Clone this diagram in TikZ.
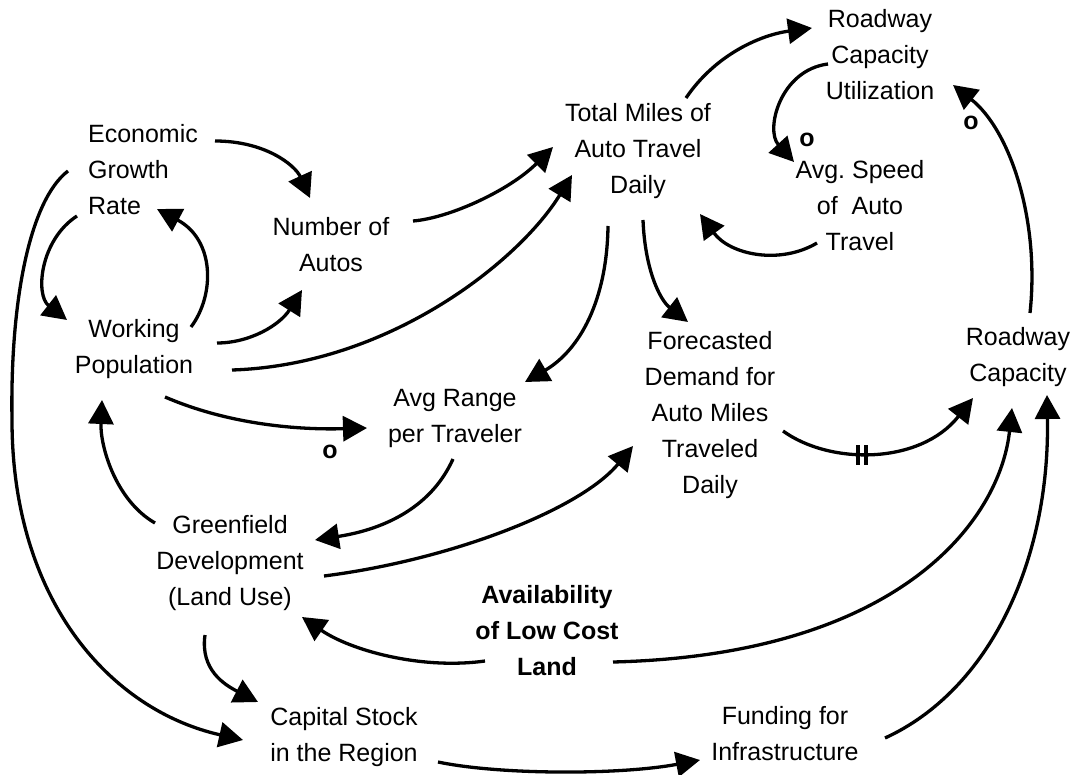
\documentclass[tikz,border=0pt]{standalone}
\usepackage{fontspec}
\setmainfont{Liberation Sans}
\usetikzlibrary{arrows.meta}
\begin{document}
\begin{tikzpicture}[x=1pt,y=-1pt,
  lbl/.style={align=center,inner sep=0pt,font=\fontsize{25}{36}\selectfont},
  conn/.style={line width=3.3pt,-{Triangle[length=24pt,width=25pt]}},
  pol/.style={inner sep=0pt,font=\fontsize{25}{30}\selectfont\bfseries}]
\useasboundingbox[fill=white] (0,0) rectangle (1073,775);
% nodes
\node[lbl,align=left] (econ) at (143,170) {Economic\\Growth\\Rate};
\node[lbl] (autos) at (331,245) {Number of\\Autos};
\node[lbl] (work) at (134,349) {Working\\Population};
\node[lbl] (total) at (638,151) {Total Miles of\\Auto Travel\\Daily};
\node[lbl] (rcu) at (880,55) {Roadway\\Capacity\\Utilization};
\node[lbl] (speed) at (860,206) {Avg.\ Speed\\of~~Auto\\Travel};
\node[lbl] (fore) at (710,415) {Forecasted\\Demand for\\Auto Miles\\Traveled\\Daily};
\node[lbl] (rcap) at (1018,357) {Roadway\\Capacity};
\node[lbl] (range) at (455,418) {Avg Range\\per Traveler};
\node[lbl] (green) at (230,563) {Greenfield\\Development\\(Land Use)};
\node[lbl,font=\fontsize{25}{36}\selectfont\bfseries] (avail) at (547,631) {Availability\\of Low Cost\\Land};
\node[lbl] (cap) at (344,737) {Capital Stock\\in the Region};
\node[lbl] (fund) at (785,734) {Funding for\\Infrastructure};
% connectors
\draw[conn] ([shift={(72,-29)}]econ.center) .. controls (265,141) and (295,165) .. ([shift={(-21,-47)}]autos.center);
\draw[conn] ([shift={(-66,46)}]econ.center) .. controls (40,240) and (35,295) .. ([shift={(-67,-29)}]work.center);
\draw[conn] ([shift={(57,-22)}]work.center) .. controls (215,295) and (215,240) .. ([shift={(14,39)}]econ.center);
\draw[conn] ([shift={(83,-6)}]work.center) .. controls (250,343) and (280,325) .. ([shift={(-29,45)}]autos.center);
\draw[conn] ([shift={(98,21)}]work.center) .. controls (390,365) and (520,260) .. ([shift={(-66,24)}]total.center);
\draw[conn] ([shift={(82,-24)}]autos.center) .. controls (450,218) and (510,190) .. ([shift={(-85,-4)}]total.center);
\draw[conn] ([shift={(48,-53)}]total.center) .. controls (715,55) and (760,35) .. ([shift={(-68,-27)}]rcu.center);
\draw[conn] ([shift={(-52,9)}]rcu.center) .. controls (780,70) and (765,130) .. ([shift={(-66,-44)}]speed.center);
\draw[conn] ([shift={(-43,37)}]speed.center) .. controls (780,265) and (730,255) .. ([shift={(62,63)}]total.center);
\draw[conn] ([shift={(-30,75)}]total.center) .. controls (607,300) and (580,350) .. ([shift={(70,-36)}]range.center);
\draw[conn] ([shift={(5,69)}]total.center) .. controls (645,270) and (660,300) .. ([shift={(-22,-93)}]fore.center);
\draw[conn] ([shift={(12,-44)}]rcap.center) .. controls (1040,220) and (1010,130) .. ([shift={(73,30)}]rcu.center);
\draw[conn] ([shift={(73,16)}]fore.center) .. controls (830,465) and (920,465) .. ([shift={(-45,41)}]rcap.center);
\draw[conn] ([shift={(31,48)}]work.center) .. controls (230,425) and (300,430) .. ([shift={(-88,10)}]range.center);
\draw[conn] ([shift={(-2,41)}]range.center) .. controls (430,510) and (380,530) .. ([shift={(85,-23)}]green.center);
\draw[conn] ([shift={(94,13)}]green.center) .. controls (450,560) and (580,510) .. ([shift={(-77,31)}]fore.center);
\draw[conn] ([shift={(-75,-40)}]green.center) .. controls (115,500) and (100,445) .. ([shift={(-32,51)}]work.center);
\draw[conn] ([shift={(-25,72)}]green.center) .. controls (200,670) and (225,685) .. ([shift={(-86,-35)}]cap.center);
\draw[conn] ([shift={(-75,1)}]econ.center) .. controls (30,200) and (10,300) .. (12,420) .. controls (12,600) and (110,710) .. ([shift={(-101,3)}]cap.center);
\draw[conn] ([shift={(-62,30)}]avail.center) .. controls (420,670) and (350,650) .. ([shift={(72,54)}]green.center);
\draw[conn] ([shift={(66,31)}]avail.center) .. controls (900,655) and (1000,520) .. ([shift={(-6,51)}]rcap.center);
\draw[conn] ([shift={(94,25)}]cap.center) .. controls (500,775) and (620,775) .. ([shift={(-85,26)}]fund.center);
\draw[conn] ([shift={(100,4)}]fund.center) .. controls (990,690) and (1050,560) .. ([shift={(29,38)}]rcap.center);
% polarity and delay marks
\node[pol] (o1) at (807,140) {o};
\node[pol] (o2) at (971,123) {o};
\node[pol] (o3) at (330,452) {o};
\draw[line width=4pt] (858,445) -- (858,465) (866,445) -- (866,465);
\end{tikzpicture}
\end{document}
